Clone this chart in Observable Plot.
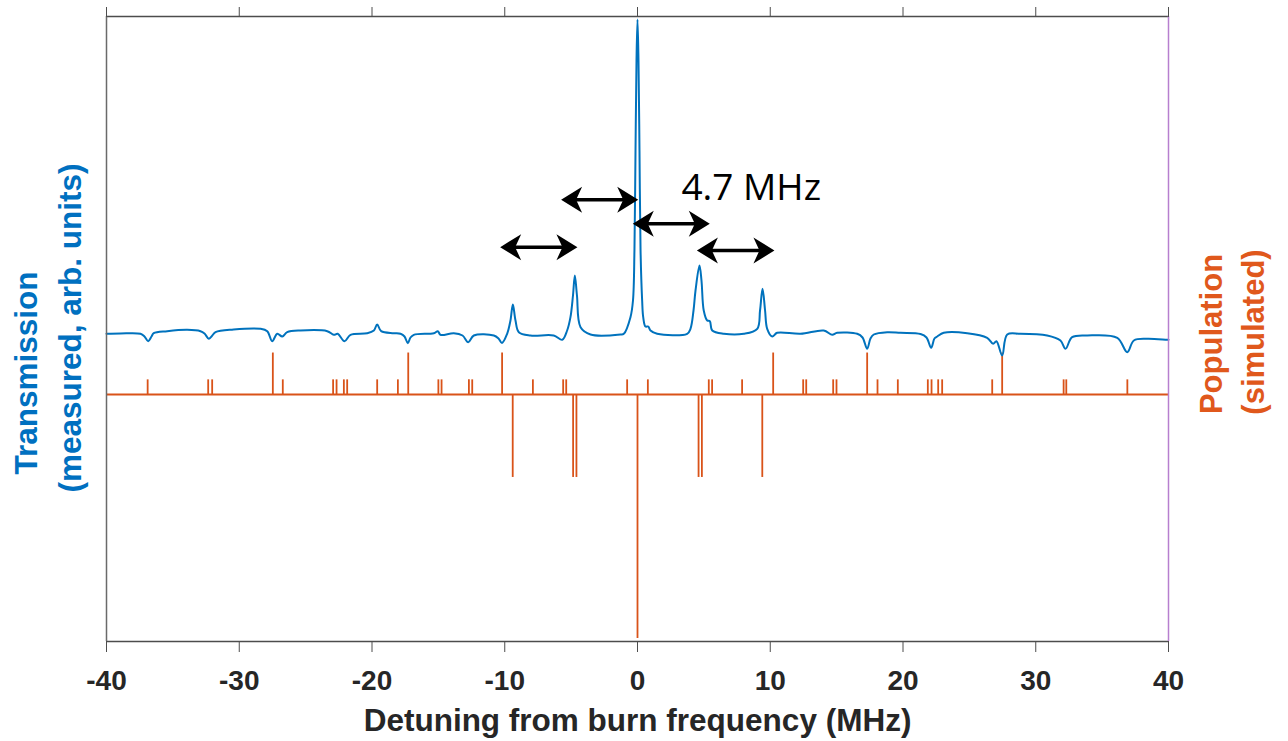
<!DOCTYPE html>
<html><head><meta charset="utf-8">
<script src="https://cdn.jsdelivr.net/npm/d3@7"></script>
<script src="https://cdn.jsdelivr.net/npm/@observablehq/plot@0.6"></script>
<style>body{margin:0;background:#fff;overflow:hidden}</style>
</head><body><div id="chart"></div>
<script>
// Measured transmission spectrum (arb. units) vs detuning (MHz)
const detuning = [-40.0,-38.95,-37.44,-37.14,-36.86,-36.61,-36.44,-35.43,-33.92,-32.92,-32.62,-32.29,-32.09,-31.79,-30.43,-28.40,-27.89,-27.52,-27.14,-26.76,-26.39,-25.39,-23.37,-22.88,-22.58,-22.07,-21.62,-20.36,-19.86,-19.61,-19.31,-18.36,-17.85,-17.55,-17.30,-17.10,-16.85,-15.34,-15.04,-14.84,-13.84,-13.18,-12.75,-12.33,-10.82,-10.47,-10.21,-9.82,-9.57,-9.39,-9.19,-8.94,-8.06,-6.31,-5.67,-5.30,-5.05,-4.86,-4.72,-4.56,-4.29,-3.54,-1.28,-1.03,-0.53,-0.34,-0.23,-0.15,-0.075,0,0.075,0.15,0.23,0.35,0.43,0.60,0.81,0.98,1.48,3.74,3.99,4.22,4.37,4.67,4.82,4.99,5.25,5.45,5.63,6.50,8.01,9.02,9.23,9.42,9.61,9.77,10.15,10.52,12.28,14.03,14.67,15.04,16.55,16.95,17.30,17.55,17.80,18.81,19.81,21.32,21.77,22.12,22.37,22.58,23.07,24.84,26.34,26.79,27.04,27.47,27.85,28.85,30.86,31.86,32.24,32.74,33.88,36.14,36.89,37.39,38.40,39.90,40.0];
const transmission = [49.23,49.28,49.23,48.80,48.05,48.80,49.33,49.65,49.87,49.65,49.28,48.43,48.80,49.49,49.92,50.03,49.65,48.05,49.23,48.80,49.49,49.76,49.65,49.07,49.23,48.05,49.07,49.33,49.76,50.72,49.65,49.33,49.23,48.80,47.73,48.64,49.07,49.33,49.65,49.07,49.33,48.96,47.89,48.96,48.96,48.48,47.76,49.23,51.36,53.92,51.36,49.49,48.96,48.96,48.27,49.76,51.89,55.36,58.56,55.36,50.29,49.12,49.12,49.23,51.89,54.56,62.56,78.56,92.96,99.52,92.96,78.56,62.56,54.56,51.89,50.40,50.40,49.76,49.23,49.23,50.03,52.96,56.16,60.16,57.76,52.96,51.36,51.25,49.76,49.23,49.23,50.03,52.96,56.43,52.96,50.03,48.80,49.39,49.23,49.76,49.07,49.39,49.23,48.64,46.83,48.48,49.12,49.49,49.39,49.20,48.64,46.99,48.48,48.80,49.39,49.33,48.59,47.63,48.05,45.76,49.12,49.23,48.96,48.16,46.83,48.69,48.96,48.59,46.29,48.16,48.43,48.27,48.27];

// Simulated population (arb.) at each transition detuning (MHz)
const stemDetuning = [-36.9,-32.34,-32.04,-27.47,-26.72,-22.93,-22.67,-22.12,-21.87,-19.61,-18.05,-17.27,-15.0,-14.76,-12.7,-12.45,-10.2,-9.4,-7.88,-5.6,-5.37,-4.85,-4.6,-0.78,0,0.78,4.6,4.85,5.37,5.62,7.88,9.4,10.22,12.48,12.71,14.74,14.99,17.3,18.08,19.61,21.87,22.15,22.65,22.95,26.72,27.47,32.1,32.3,36.9];
const stemPopulation = [0.06,0.06,0.06,0.17,0.06,0.06,0.06,0.06,0.06,0.06,0.06,0.17,0.06,0.06,0.06,0.06,0.17,-0.34,0.06,0.06,0.06,-0.34,-0.34,0.06,-1.0,0.06,-0.34,-0.34,0.06,0.06,0.06,-0.34,0.17,0.06,0.06,0.06,0.06,0.17,0.06,0.06,0.06,0.06,0.06,0.06,0.06,0.17,0.06,0.06,0.06];

// Annotation arrows (4.7 MHz spacing)
const arrowStart = [-10.27,-5.68,-0.28,4.55];
const arrowEnd = [-4.6,-0.02,5.37,10.24];
const arrowLevel = [63.09,70.67,66.83,62.56];
const annotation = {text: "4.7 MHz", x: 3.31, y: 72.5};

const xTicks = [-40,-30,-20,-10,0,10,20,30,40];
const xDomain = [-40, 40];
const yDomain = [0, 100];

// population axis (right) placed on the shared vertical scale
const popZero = 39.52, popUnit = 39.04;
const popToAxis = p => popZero + popUnit * p;

const blue = "#0072BD", orange = "#D95319";
const spectrum = detuning.map((x, i) => ({x, y: transmission[i]}));
const stems = stemDetuning.map((x, i) => ({x, y1: popToAxis(0), y2: popToAxis(stemPopulation[i])}));
const arrows = arrowStart.map((x1, i) => ({x1, x2: arrowEnd[i], y: arrowLevel[i]}));
const heads = arrows.flatMap(a => [{x: a.x1, y: a.y, r: 180}, {x: a.x2, y: a.y, r: 0}]);

const headSymbol = {
  draw(ctx) {
    ctx.moveTo(1, 0);
    ctx.lineTo(-20, -13);
    ctx.lineTo(-14, 0);
    ctx.lineTo(-20, 13);
    ctx.closePath();
  }
};

const font = "'Liberation Sans', Arial, sans-serif";

const chart = Plot.plot({
  width: 1288,
  height: 741,
  marginLeft: 106,
  marginRight: 120,
  marginTop: 16,
  marginBottom: 100,
  style: {fontFamily: font, background: "#fff"},
  x: {domain: xDomain, axis: null},
  y: {domain: yDomain, axis: null},
  marks: [
    Plot.ruleX(stems, {x: "x", y1: "y1", y2: "y2", stroke: orange, strokeWidth: 1.8}),
    Plot.ruleY([popToAxis(0)], {stroke: orange, strokeWidth: 1.8}),
    Plot.line(spectrum, {x: "x", y: "y", stroke: blue, strokeWidth: 2, curve: "catmull-rom"}),
    Plot.link(arrows, {x1: d => d.x1 + 0.6, x2: d => d.x2 - 0.6, y1: "y", y2: "y", stroke: "#000", strokeWidth: 3.5}),
    Plot.dot(heads, {x: "x", y: "y", rotate: "r", symbol: headSymbol, fill: "#000", stroke: "none"}),
    Plot.text([annotation], {x: "x", y: "y", text: "text", textAnchor: "start", fontSize: 37, fontFamily: "'Open Sans', sans-serif", fill: "#000"}),
    Plot.ruleY([yDomain[1]], {stroke: "#4d4d4d", strokeWidth: 1.3}),
    Plot.ruleY([yDomain[0]], {stroke: "#4d4d4d", strokeWidth: 1.3}),
    Plot.ruleX([xDomain[0]], {stroke: "#6a6a6a", strokeWidth: 1.5}),
    Plot.ruleX([xDomain[1]], {stroke: "#b77fcf", strokeWidth: 1.5}),
    Plot.axisX(xTicks, {anchor: "bottom", tickSize: 11, tickPadding: 18, tickFormat: d => String(d), fontSize: 28, fontWeight: "bold", fill: "#262626", stroke: "#4d4d4d", label: null}),
    Plot.axisX(xTicks, {anchor: "top", tickSize: 10, tickFormat: () => "", stroke: "#4d4d4d", label: null}),
    Plot.text(["Detuning from burn frequency (MHz)"], {frameAnchor: "bottom", lineAnchor: "top", dy: 67, fontSize: 31.5, fontWeight: "bold", fill: "#262626"}),
    Plot.text(["Transmission"], {frameAnchor: "left", textAnchor: "middle", dx: -80, dy: 44, rotate: -90, fontSize: 31.5, fontWeight: "bold", fill: "#0070C0"}),
    Plot.text(["(measured, arb. units)"], {frameAnchor: "left", textAnchor: "middle", dx: -36, dy: -1, rotate: -90, fontSize: 31.5, fontWeight: "bold", fill: "#0070C0"}),
    Plot.text(["Population"], {frameAnchor: "right", textAnchor: "middle", dx: 44, dy: 5, rotate: -90, fontSize: 31, fontWeight: "bold", fill: "#E0581C"}),
    Plot.text(["(simulated)"], {frameAnchor: "right", textAnchor: "middle", dx: 86, dy: 3, rotate: -90, fontSize: 31, fontWeight: "bold", fill: "#E0581C"})
  ]
});
document.getElementById("chart").appendChild(chart);
</script>
</body></html>
